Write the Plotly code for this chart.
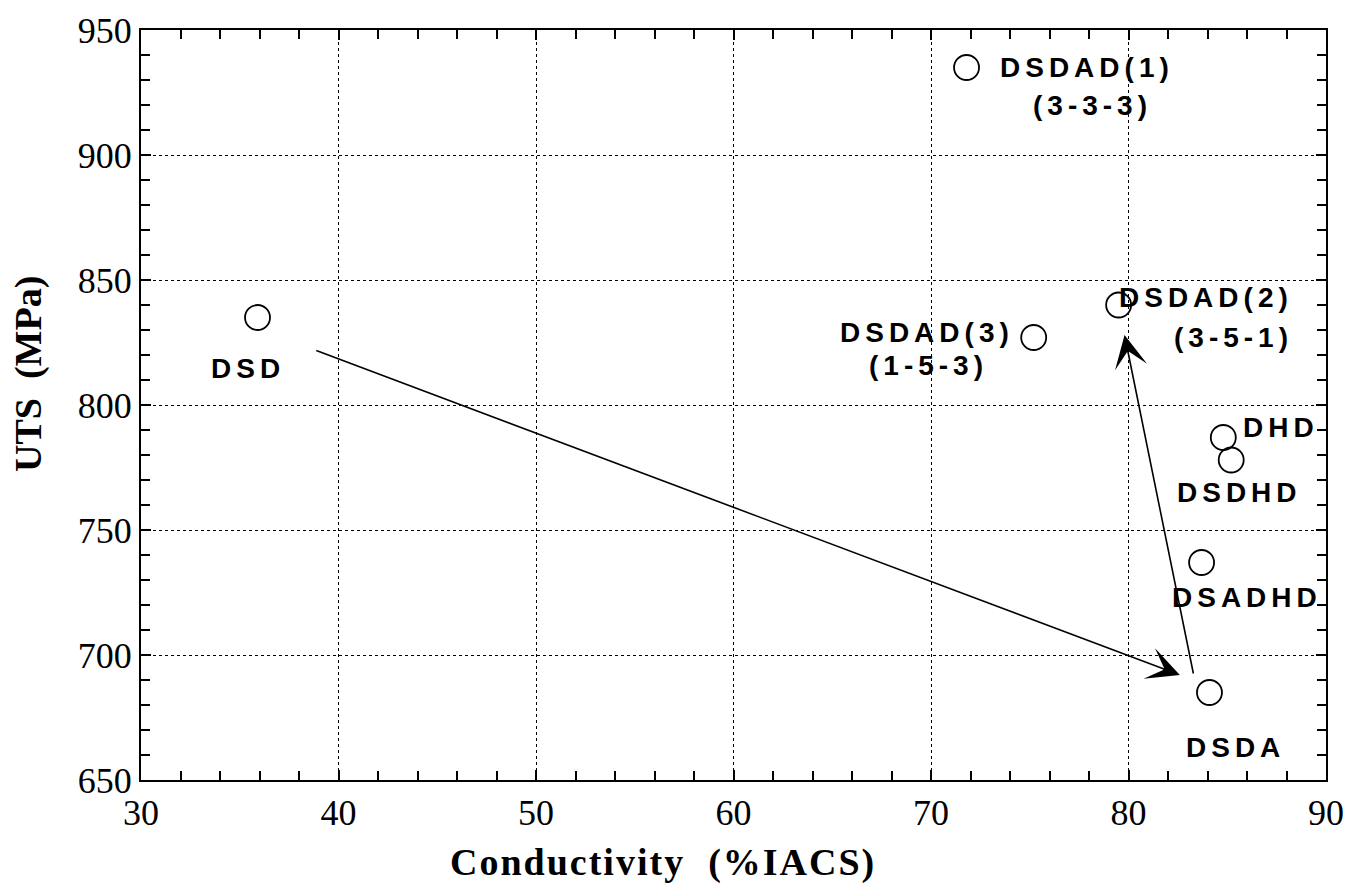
import plotly.graph_objects as go

# Data
names = ["DSD", "DSDAD(1)", "DSDAD(2)", "DSDAD(3)", "DHD", "DSDHD", "DSADHD", "DSDA"]
conductivity = [35.9, 71.8, 79.5, 75.2, 84.8, 85.2, 83.7, 84.1]
uts = [835, 935, 840, 827, 787, 778, 737, 685]

# label text, label x, label y
label_text = ["DSD", "DSDAD(1)", "(3-3-3)", "DSDAD(2)", "(3-5-1)", "DSDAD(3)", "(1-5-3)",
              "DHD", "DSDHD", "DSADHD", "DSDA"]
label_x = [35.4, 77.9, 78.2, 83.9, 85.3, 69.8, 69.85, 87.7, 85.6, 86.0, 85.4]
label_y = [814.5, 935, 920, 843, 827, 829, 816, 791, 765, 723, 663]

# arrows: (start x, start y, end x, end y)
arrow_start_x = [38.8, 83.3]
arrow_start_y = [822, 692]
arrow_end_x = [82.6, 79.8]
arrow_end_y = [692, 828]

fig = go.Figure()
fig.add_trace(go.Scatter(
    x=conductivity, y=uts, mode="markers",
    marker=dict(symbol="circle-open", size=25, color="black", line=dict(width=1.8)),
    showlegend=False, hoverinfo="text", text=names,
))

lab_font = dict(family="Liberation Sans, Arial, sans-serif", size=28, color="black")
for t, x, y in zip(label_text, label_x, label_y):
    fig.add_annotation(x=x, y=y, xref="x", yref="y",
                       text='<b><span style="letter-spacing:5px">%s</span></b>' % t,
                       showarrow=False, font=lab_font, xanchor="center", yanchor="middle")

for sx, sy, ex, ey in zip(arrow_start_x, arrow_start_y, arrow_end_x, arrow_end_y):
    fig.add_annotation(x=ex, y=ey, ax=sx, ay=sy, xref="x", yref="y", axref="x", ayref="y",
                       text="", showarrow=True, arrowhead=3, arrowsize=3.4,
                       arrowwidth=1.6, arrowcolor="black", standoff=0, startstandoff=0)

tick_font = dict(family="Liberation Serif, Times New Roman, serif", size=36, color="black")
title_font = dict(family="Liberation Serif, Times New Roman, serif", size=38, color="black")

fig.add_annotation(xref="paper", yref="paper", x=(663 - 141) / 1185, y=0, yshift=-82,
                   text='<b><span style="letter-spacing:2px">Conductivity&nbsp; (%IACS)</span></b>',
                   showarrow=False, font=title_font, xanchor="center", yanchor="middle")
fig.add_annotation(xref="paper", yref="paper", x=0, xshift=-113, y=(780 - 374) / 750,
                   text='<b>UTS&nbsp; (MPa)</b>',
                   showarrow=False, font=title_font, textangle=-90,
                   xanchor="center", yanchor="middle")

axis_common = dict(
    showline=True, linecolor="black", linewidth=2, mirror="allticks",
    ticks="inside", ticklen=10, tickwidth=1.5, tickcolor="black",
    showgrid=True, gridcolor="black", gridwidth=1, griddash="dot",
    zeroline=False, tickfont=tick_font, automargin=False,
)

fig.update_xaxes(range=[30, 90], dtick=10, tick0=30,
                 minor=dict(dtick=2, ticks="inside", ticklen=9, tickwidth=1.5, tickcolor="black", showgrid=False),
                 **axis_common)
fig.update_yaxes(range=[650, 950], dtick=50, tick0=650,
                 minor=dict(dtick=10, ticks="inside", ticklen=9, tickwidth=1.5, tickcolor="black", showgrid=False),
                 **axis_common)

fig.update_layout(
    width=1346, height=886,
    margin=dict(l=141, r=20, t=30, b=106),
    plot_bgcolor="white", paper_bgcolor="white",
)

fig.write_html("out.html")
